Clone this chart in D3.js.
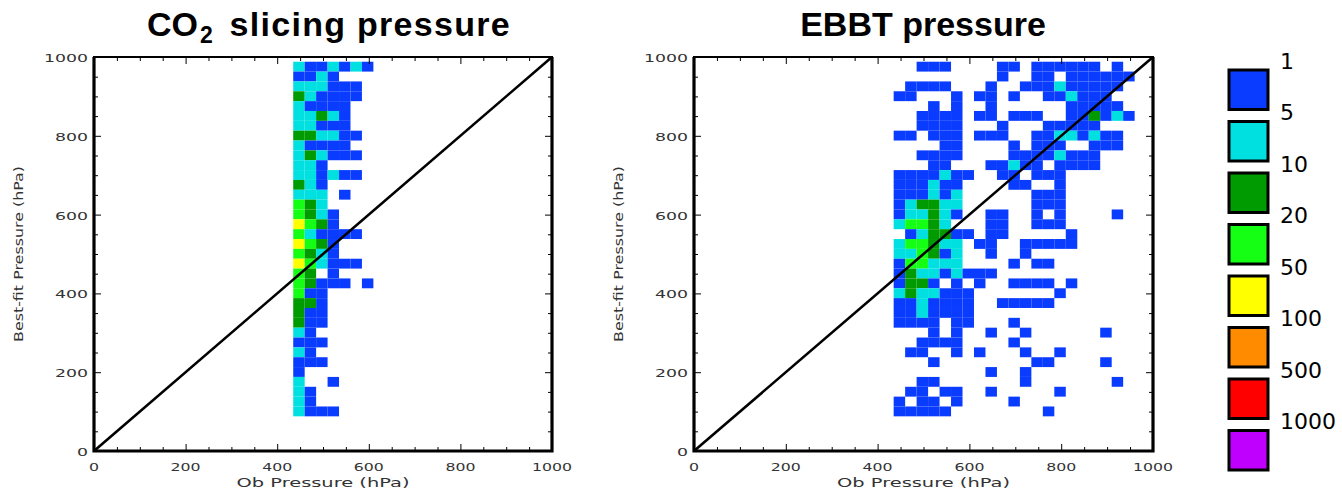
<!DOCTYPE html>
<html><head><meta charset="utf-8">
<script src="https://cdn.jsdelivr.net/npm/d3@7"></script>
<style>html,body{margin:0;padding:0;background:#fff;}svg{display:block;}</style>
</head><body>
<svg id="chart" width="1342" height="493"></svg>
<script>
// ---------- data ----------
const panelTitles = ["CO2 slicing pressure", "EBBT pressure"];
const axisTicks = [0, 200, 400, 600, 800, 1000];
const xTitle = "Ob Pressure (hPa)";
const yTitle = "Best-fit Pressure (hPa)";
const legendBreaks = [1, 5, 10, 20, 50, 100, 500, 1000];
const legendColors = ["#0a3cff", "#00e0e0", "#009b00", "#14ff14", "#ffff00", "#ff8c00", "#ff0000", "#c000ff"];
// bins (hPa): 25 hPa cells; first column starts at 435 hPa, first row top at 988 hPa
const binSize = 25;
const xFirstBin = 435;
const yTopBin = 988;
// representative count for each level (0 = empty, 1 = 1-5, 2 = 5-10, 3 = 10-20, 4 = 20-50, 5 = 50-100)
const levelCounts = [0, 3, 7, 15, 35, 75];
// rows from top (988 hPa) downwards, one char per 25 hPa column
const co2Rows = [
"2112121","1121000","2221110","3211110","2111100","2232100","2211100","3322110",
"2111100","2321110","2210000","2212110","3210000","2220100","4320000","4321000",
"5431000","4211110","5431000","4321000","5421110","4301000","4311101","4110000",
"3310000","3110000","3110000","2100000","1110000","2100000","1110000","1000000",
"2001000","2100000","2100000","2111000"
];
const ebbtRows = [
"00111000011011111101000","00000000010011011111100","01111000100111211111000","11000101101001121110000",
"00010100100000011111000","00111101101110011312100","00111100010001111100000","11011101110011221211000",
"00001100001011100111000","00111100001111211100000","00011000112110111100000","11112110011011100000000",
"11121100001100100000000","11121200000011100000000","12332200000011100000000","12232100110010100001000",
"24432000110011100000000","01233110110000010000000","24432201100111110000000","22431200100100000000000",
"14422200001011000000000","13221211100000000000000","13310101001111010000000","23221110000000100000000",
"11211110011111000000000","11211110000000000000000","11110110001000000000000","00010100100100000010000",
"00111100001000000000000","01100101000100100000000","00010000000011000010000","00000000100100000000000",
"00110000000100000001000","01101100100000100000000","10110100001000000000000","11111000000001000000000"
];

// ---------- drawing ----------
const svg = d3.select("#chart");
const color = d3.scaleThreshold().domain(legendBreaks.slice(1)).range(legendColors);

const panels = [
  {rows: co2Rows, x0: 94, x1: 552, title: panelTitles[0], tcx: 329, ytx: 18.5, ylabRight: 88},
  {rows: ebbtRows, x0: 694, x1: 1153, title: panelTitles[1], tcx: 923, ytx: 619, ylabRight: 688}
];
const yPix = [451, 57];

panels.forEach(p => {
  const x = d3.scaleLinear().domain([0, 1000]).range([p.x0, p.x1]);
  const y = d3.scaleLinear().domain([0, 1000]).range(yPix);
  const g = svg.append("g");

  // cells
  const cells = [];
  p.rows.forEach((row, r) => {
    row.split("").forEach((ch, c) => {
      const cnt = levelCounts[+ch];
      if (cnt > 0) cells.push({xlo: xFirstBin + c * binSize, yhi: yTopBin - r * binSize, count: cnt});
    });
  });
  g.selectAll("rect.cell").data(cells).join("rect")
    .attr("class", "cell")
    .attr("x", d => x(d.xlo))
    .attr("width", d => x(d.xlo + binSize) - x(d.xlo))
    .attr("y", d => y(d.yhi))
    .attr("height", d => y(d.yhi - binSize) - y(d.yhi))
    .attr("fill", d => color(d.count));

  // diagonal 1:1 line
  g.append("line")
    .attr("x1", x(0)).attr("y1", y(0)).attr("x2", x(1000)).attr("y2", y(1000))
    .attr("stroke", "#000").attr("stroke-width", 2.6);

  // ticks (inward) using axes
  const minor = d3.range(0, 1001, 50);
  const tickLen = v => (v % 200 === 0 ? 7 : 4);
  const axB = d3.axisTop(x).tickValues(minor).tickFormat("").tickSizeOuter(0);
  const axT = d3.axisBottom(x).tickValues(minor).tickFormat("").tickSizeOuter(0);
  const axL = d3.axisRight(y).tickValues(minor).tickFormat("").tickSizeOuter(0);
  const axR = d3.axisLeft(y).tickValues(minor).tickFormat("").tickSizeOuter(0);
  [[axB, `translate(0,${y(0)})`, "y2", -1], [axT, `translate(0,${y(1000)})`, "y2", 1],
   [axL, `translate(${x(0)},0)`, "x2", 1], [axR, `translate(${x(1000)},0)`, "x2", -1]].forEach(([ax, tr, attr, s]) => {
    const ag = g.append("g").attr("transform", tr).call(ax);
    ag.select(".domain").remove();
    ag.selectAll(".tick line").attr(attr, d => s * tickLen(d)).attr("stroke", "#000").attr("stroke-width", 1);
  });

  // frame
  g.append("rect").attr("x", x(0)).attr("y", y(1000))
    .attr("width", x(1000) - x(0)).attr("height", y(0) - y(1000))
    .attr("fill", "none").attr("stroke", "#000").attr("stroke-width", 2);
  g.append("path")
    .attr("d", `M${x(0)},${y(1000)}V${y(0)}H${x(1000)}V${y(1000)}`)
    .attr("fill", "none").attr("stroke", "#000").attr("stroke-width", 3.2);

  // tick labels
  g.selectAll("text.xl").data(axisTicks).join("text")
    .attr("class", "xl")
    .attr("x", d => x(d)).attr("y", 470.5)
    .attr("text-anchor", "middle")
    .attr("font-family", "DejaVu Sans").attr("font-size", 11).attr("fill", "#333")
    .attr("textLength", d => String(d).length * 10)
    .attr("lengthAdjust", "spacingAndGlyphs")
    .text(d => d);
  g.selectAll("text.yl").data(axisTicks).join("text")
    .attr("class", "yl")
    .attr("x", p.ylabRight).attr("y", d => y(d) + 5)
    .attr("text-anchor", "end")
    .attr("font-family", "DejaVu Sans").attr("font-size", 11).attr("fill", "#333")
    .attr("textLength", d => String(d).length * 11)
    .attr("lengthAdjust", "spacingAndGlyphs")
    .text(d => d);

  // axis titles
  g.append("text")
    .attr("x", (x(0) + x(1000)) / 2).attr("y", 487)
    .attr("text-anchor", "middle")
    .attr("font-family", "DejaVu Sans").attr("font-size", 11.5).attr("fill", "#333")
    .attr("textLength", 173).attr("lengthAdjust", "spacingAndGlyphs")
    .text(xTitle);
  g.append("text")
    .attr("transform", `translate(${p.ytx + 4},${(y(0) + y(1000)) / 2}) rotate(-90)`)
    .attr("text-anchor", "middle")
    .attr("font-family", "DejaVu Sans").attr("font-size", 11.5).attr("fill", "#333")
    .attr("textLength", 176).attr("lengthAdjust", "spacingAndGlyphs")
    .text(yTitle);

  // panel title
  const t = g.append("text")
    .attr("x", p.tcx).attr("y", 36)
    .attr("text-anchor", "middle")
    .attr("font-family", "Liberation Sans, Arial, sans-serif").attr("font-weight", "bold")
    .attr("font-size", 34).attr("fill", "#000");
  if (p.title.startsWith("CO2")) {
    t.append("tspan").text("CO");
    t.append("tspan").attr("font-size", 23).attr("dx", 2).attr("dy", 7).text("2");
    t.append("tspan").attr("dy", -7).attr("dx", 6).attr("letter-spacing", 1.3).text(" slicing pressure");
  } else {
    t.text(p.title);
  }
});

// legend
const lg = svg.append("g");
const boxY = d3.scaleLinear().domain([0, legendColors.length - 1]).range([70, 430.5]);
lg.selectAll("rect").data(legendColors).join("rect")
  .attr("x", 1229).attr("y", (d, i) => boxY(i))
  .attr("width", 39).attr("height", 39.5)
  .attr("fill", d => d).attr("stroke", "#000").attr("stroke-width", 3);
lg.selectAll("text").data(legendBreaks).join("text")
  .attr("x", 1280).attr("y", (d, i) => boxY(i) - 9)
  .attr("dominant-baseline", "central")
  .attr("font-family", "DejaVu Sans").attr("font-size", 22).attr("fill", "#000")
  .text(d => d);
</script>
</body></html>
